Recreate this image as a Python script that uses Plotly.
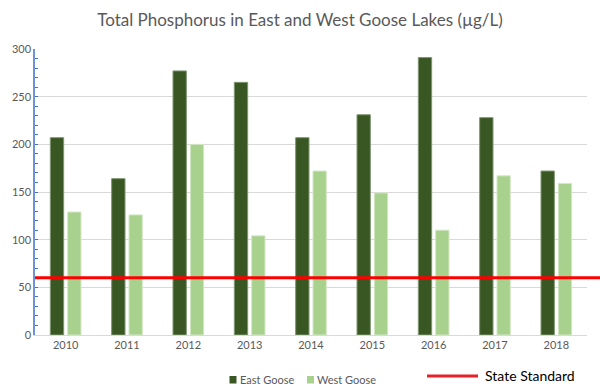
import plotly.graph_objects as go

years = ["2010", "2011", "2012", "2013", "2014", "2015", "2016", "2017", "2018"]
east_goose = [207, 164, 277, 265, 207, 231, 291, 228, 172]
west_goose = [129, 126, 200, 104, 172, 149, 110, 167, 159]
state_standard = 60
y_ticks = [0, 50, 100, 150, 200, 250, 300]

EAST_COLOR = "#385723"
WEST_COLOR = "#A9D18E"

L, R, T, B = 35, 13, 49, 57
W, H = 600, 392
PW, PH = W - L - R, H - T - B


def px(x):
    return (x - L) / PW


def py(y):
    return (H - B - y) / PH


fig = go.Figure()
fig.add_trace(go.Bar(x=years, y=east_goose, name="East Goose",
                     marker=dict(color=EAST_COLOR, line=dict(color="#7E9670", width=1))))
fig.add_trace(go.Bar(x=years, y=west_goose, name="West Goose",
                     marker=dict(color=WEST_COLOR, line=dict(color="#D4E8C6", width=1))))

fig.add_shape(type="line", xref="paper", yref="y", x0=0, x1=px(600),
              y0=state_standard, y1=state_standard,
              line=dict(color="#FF0000", width=3), layer="above")

# manual legend
legend_font = dict(family="Lato, sans-serif", size=11, color="#595959")
for name, color, x0 in [("East Goose", EAST_COLOR, 229.5), ("West Goose", WEST_COLOR, 307)]:
    fig.add_shape(type="rect", xref="paper", yref="paper",
                  x0=px(x0), x1=px(x0 + 7), y0=py(376), y1=py(383.5),
                  fillcolor=color, line=dict(width=0))
    fig.add_annotation(text=name, xref="paper", yref="paper", x=px(x0 + 8), y=py(379.5),
                       xanchor="left", yanchor="middle", showarrow=False, font=legend_font)

fig.add_shape(type="line", xref="paper", yref="paper", x0=px(427), x1=px(478),
              y0=py(376), y1=py(376), line=dict(color="#E8202A", width=3))
fig.add_annotation(text="State Standard", xref="paper", yref="paper",
                   x=px(483), y=py(375.5), xanchor="left", yanchor="middle",
                   showarrow=False, font=dict(family="Lato, sans-serif", size=14, color="#000000"))

fig.update_layout(
    width=W, height=H,
    margin=dict(l=L, r=R, t=T, b=B),
    paper_bgcolor="white", plot_bgcolor="white",
    title=dict(text="Total Phosphorus in East and West Goose Lakes (µg/L)",
               x=0.5, xanchor="center", y=1 - 20/392, yanchor="middle",
               font=dict(family="Lato, sans-serif", size=17, color="#595959")),
    font=dict(family="Lato, sans-serif", size=11, color="#595959"),
    barmode="group", bargap=0.435, bargroupgap=0.23,
    showlegend=False,
    xaxis=dict(showline=True, linecolor="#D9D9D9", linewidth=1, ticks="", automargin=False,
               tickfont=dict(size=11, color="#595959")),
    yaxis=dict(range=[0, 300], tickvals=y_ticks, showgrid=True, gridcolor="#D9D9D9",
               showline=True, linecolor="#6F93D8", linewidth=1.5, automargin=False,
               ticks="inside", ticklen=3, tickcolor="#4472C4",
               minor=dict(dtick=10, ticks="inside", ticklen=3, tickcolor="#4472C4", showgrid=False),
               zeroline=False, tickfont=dict(size=11, color="#595959")),
)

fig.write_html("out.html", config={"displayModeBar": False},
               post_script="document.body.style.margin='0';document.body.style.overflow='hidden';")
